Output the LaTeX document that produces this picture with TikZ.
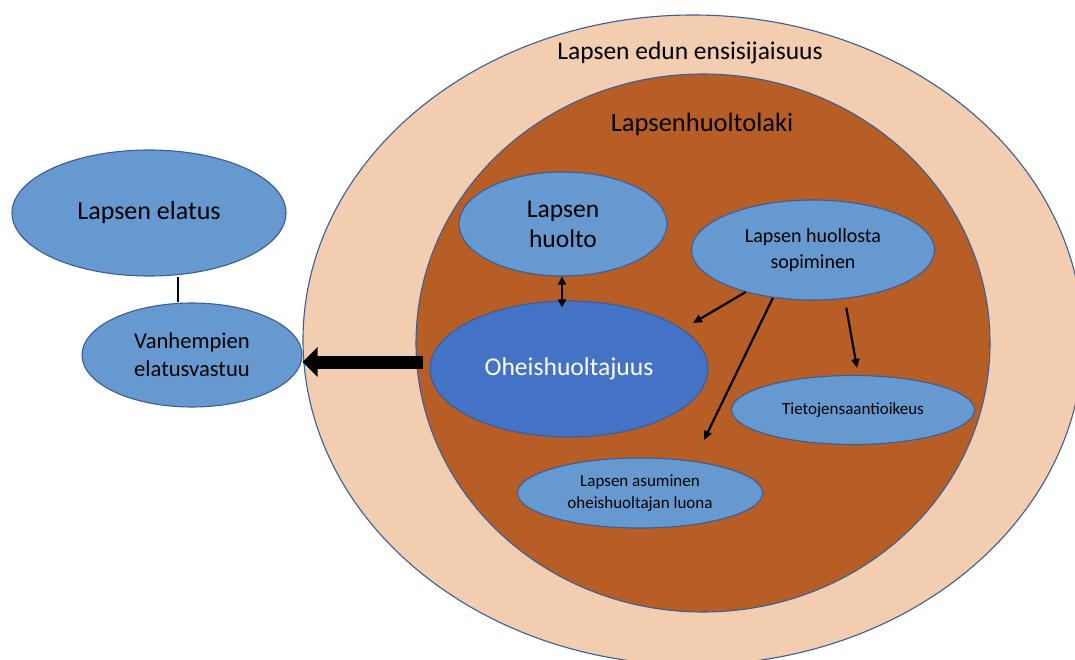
\documentclass[tikz,border=0pt]{standalone}
\usepackage{fontspec}
\setmainfont{Carlito}
\usepackage{tikz}
\usetikzlibrary{shapes.geometric,arrows.meta}

\definecolor{peach}{HTML}{F2CDB0}
\definecolor{rust}{HTML}{B75E27}
\definecolor{skyblue}{HTML}{6699CF}
\definecolor{deepblue}{HTML}{4472C4}
\definecolor{rim}{HTML}{3A5E96}

\begin{document}
\begin{tikzpicture}[x=1pt, y=-1pt,
    blob/.style={ellipse, draw=rim, line width=1.1pt, inner sep=0pt, align=center},
    thinarrow/.style={line width=2.2pt, -{Triangle[length=9pt,width=8pt]}}]
    \useasboundingbox (0,0) rectangle (1075,660);
    \clip (0,0) rectangle (1075,660);

    % Outer and inner areas
    \node[blob, fill=peach, minimum width=780pt, minimum height=650pt] (etu) at (693,340) {};
    \node[blob, fill=rust, minimum width=574pt, minimum height=538pt] (laki) at (703,343) {};
    \node[font=\fontsize{25.5}{30}\selectfont] (etuteksti) at (690,53) {Lapsen edun ensisijaisuus};
    \node[font=\fontsize{26.5}{30}\selectfont] (lakiteksti) at (702,124) {Lapsenhuoltolaki};

    % Left side
    \node[blob, fill=skyblue, minimum width=274pt, minimum height=126pt,
          font=\fontsize{26}{31}\selectfont] (elatus) at (149,213) {Lapsen elatus};
    \node[blob, fill=skyblue, minimum width=220pt, minimum height=104pt,
          font=\fontsize{22.6}{28}\selectfont] (vastuu) at (192,355) {Vanhempien\\elatusvastuu};
    \draw[line width=2.2pt] ([xshift=29pt]elatus.south) -- ([xshift=-14pt]vastuu.north);

    % Inside the law
    \node[blob, fill=skyblue, minimum width=208pt, minimum height=104pt,
          font=\fontsize{25.5}{30}\selectfont] (huolto) at (563,224) {Lapsen\\huolto};
    \node[blob, fill=skyblue, minimum width=243pt, minimum height=100pt,
          font=\fontsize{20}{26}\selectfont] (sopiminen) at (813,250) {Lapsen huollosta\\sopiminen};
    \node[blob, fill=deepblue, text=white, minimum width=278pt, minimum height=136pt,
          font=\fontsize{25.6}{30}\selectfont] (ohei) at (569,369) {Oheishuoltajuus};
    \node[blob, fill=skyblue, minimum width=243pt, minimum height=69pt,
          font=\fontsize{17}{22}\selectfont] (tieto) at (853,410) {Tietojensaantioikeus};
    \node[blob, fill=skyblue, minimum width=245pt, minimum height=70pt,
          font=\fontsize{17}{22}\selectfont] (asuminen) at (640,493) {Lapsen asuminen\\oheishuoltajan luona};

    % Arrows
    \coordinate (kohde1) at (693,323);
    \coordinate (kohde2) at (704,440);
    \coordinate (kohde3) at (857,368);
    \draw[thinarrow] (sopiminen.212) -- (kohde1);
    \draw[thinarrow] (sopiminen.230) -- (kohde2);
    \draw[thinarrow, shorten <=9pt] (sopiminen.303) -- (kohde3);
    \draw[line width=2.2pt, {Triangle[length=8pt,width=8pt]}-{Triangle[length=8pt,width=8pt]},
          shorten >=-7pt] ([xshift=-1pt]huolto.south) -- ([xshift=-1pt]huolto.south |- ohei.north);

    \coordinate (hanta) at (423,362);
    \draw[line width=13pt, -{Triangle[length=15pt,width=29pt]}] (hanta) -- (hanta -| vastuu.east);
\end{tikzpicture}
\end{document}
